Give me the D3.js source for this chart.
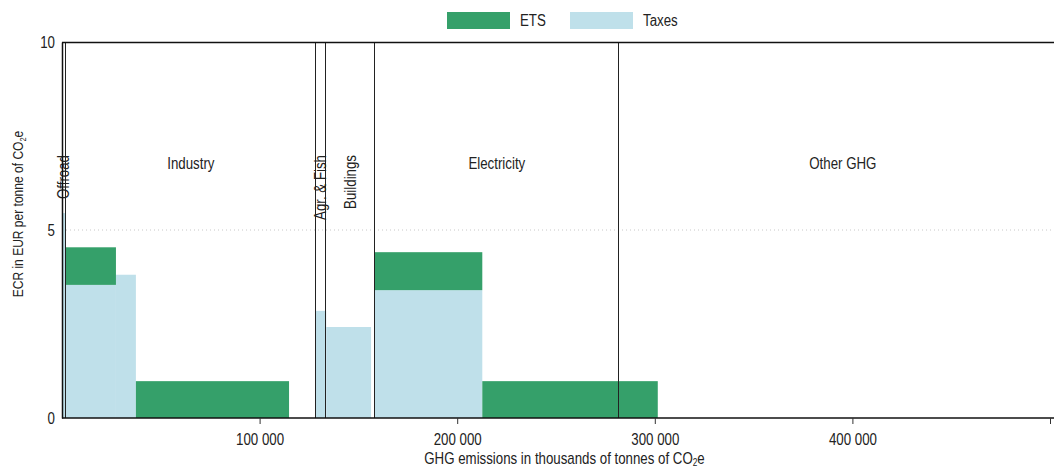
<!DOCTYPE html>
<html lang="en">
<head>
<meta charset="UTF-8">
<title>ECR by sector</title>
<script src="https://d3js.org/d3.v7.min.js"></script>
<style>
  body { margin: 0; background: #fff; }
  svg text { font-family: "Liberation Sans Narrow", "Arial Narrow", "Liberation Sans", Arial, sans-serif; fill: #222; }
</style>
</head>
<body>
<div id="chart"></div>
<script>
// sectors (cumulative emissions, thousands of tonnes CO2e)
var sectorNames = ["Offroad", "Industry", "Agr. & Fish", "Buildings", "Electricity", "Other GHG"];
var sectorEnds = [2000, 128400, 133700, 158400, 281700, 508600];

// bars: emission range and rate per tonne (EUR)
var barStart = [0, 2000, 27300, 37400, 128400, 133700, 158400, 212700];
var barEnd = [2000, 27300, 37400, 114900, 133700, 156400, 212700, 301500];
var taxRate = [5.45, 3.54, 3.81, 0, 2.85, 2.42, 3.40, 0];
var etsRate = [0, 1.0, 0, 0.98, 0, 0, 1.01, 0.98];

var xTicks = [100000, 200000, 300000, 400000, 500000];
var yTicks = [0, 5, 10];

var width = 1054, height = 468;
var margin = {top: 42, left: 62, bottom: 50};
var squeeze = 0.83; // reference uses a narrow face

var x = d3.scaleLinear().domain([0, 508600]).range([margin.left, 1067]);
var y = d3.scaleLinear().domain([0, 10]).range([height - margin.bottom, margin.top]);

var green = "#35a06a", blue = "#bfe0ea";

var svg = d3.select("#chart").append("svg")
    .attr("width", width)
    .attr("height", height);

// grid line at 5
svg.append("line")
    .attr("x1", x(0)).attr("x2", width)
    .attr("y1", y(5)).attr("y2", y(5))
    .attr("stroke", "#c8c8c8")
    .attr("stroke-dasharray", "1,3");

var bars = barStart.map(function(d, i) {
  return {x0: d, x1: barEnd[i], tax: taxRate[i], ets: etsRate[i]};
});

svg.selectAll(".tax").data(bars.filter(function(d) { return d.tax > 0; }))
  .enter().append("rect")
    .attr("class", "tax")
    .attr("x", function(d) { return x(d.x0); })
    .attr("width", function(d) { return x(d.x1) - x(d.x0); })
    .attr("y", function(d) { return y(d.tax); })
    .attr("height", function(d) { return y(0) - y(d.tax); })
    .attr("fill", blue);

svg.selectAll(".ets").data(bars.filter(function(d) { return d.ets > 0; }))
  .enter().append("rect")
    .attr("class", "ets")
    .attr("x", function(d) { return x(d.x0); })
    .attr("width", function(d) { return x(d.x1) - x(d.x0); })
    .attr("y", function(d) { return y(d.tax + d.ets); })
    .attr("height", function(d) { return y(d.tax) - y(d.tax + d.ets); })
    .attr("fill", green);

// sector separators
var sectors = sectorNames.map(function(n, i) {
  return {name: n, start: i ? sectorEnds[i - 1] : 0, end: sectorEnds[i]};
});

svg.selectAll(".sep").data(sectors.slice(1))
  .enter().append("line")
    .attr("class", "sep")
    .attr("x1", function(d) { return Math.round(x(d.start)) - 0.5; })
    .attr("x2", function(d) { return Math.round(x(d.start)) - 0.5; })
    .attr("y1", y(0)).attr("y2", y(10))
    .attr("stroke", "#222")
    .attr("stroke-width", 1);

// sector labels
svg.selectAll(".lab").data(sectors)
  .enter().append("text")
    .attr("class", "lab")
    .style("font-size", "16px")
    .each(function(d) {
      var cx = (x(d.start) + x(d.end)) / 2;
      var t = d3.select(this);
      if (x(d.end) - x(d.start) < 60) {
        t.attr("transform", "translate(" + (cx + 5.5) + ",155) rotate(-90)")
          .attr("text-anchor", "end");
      } else {
        t.attr("x", cx).attr("y", 169).attr("text-anchor", "middle");
      }
    })
    .text(function(d) { return d.name; });

// top border
svg.append("line")
    .attr("x1", x(0)).attr("x2", width)
    .attr("y1", y(10) + 0.5).attr("y2", y(10) + 0.5)
    .attr("stroke", "#111").attr("stroke-width", 1.3);

// x axis
var xAxis = svg.append("g")
    .attr("transform", "translate(0," + y(0) + ")")
    .call(d3.axisBottom(x).tickValues(xTicks).tickSizeOuter(0).tickSize(6)
      .tickFormat(function(d) { return d < 500000 ? d3.format(",")(d).replace(/,/g, " ") : ""; }));
xAxis.select(".domain").attr("stroke", "#111").attr("stroke-width", 1.5)
    .attr("d", "M" + x(0) + ",0H" + width);
xAxis.selectAll(".tick line").attr("stroke", "#333");
xAxis.selectAll("text").style("font-size", "16px").attr("dy", "1.1em")
    .style("font-family", null).attr("fill", "#222");

// y axis
var yAxis = svg.append("g")
    .attr("transform", "translate(" + x(0) + ",0)")
    .call(d3.axisLeft(y).tickValues(yTicks).tickSize(0).tickPadding(7));
yAxis.select(".domain").attr("stroke", "#111").attr("stroke-width", 1.5);
yAxis.selectAll("text").style("font-size", "16px").attr("fill", "#222");

// legend
var legendNames = ["ETS", "Taxes"];
var legendColors = [green, blue];
var legendX = [447, 570];
var legend = svg.selectAll(".legend").data(legendNames)
  .enter().append("g")
    .attr("class", "legend")
    .attr("transform", function(d, i) { return "translate(" + legendX[i] + ",12)"; });
legend.append("rect")
    .attr("width", 63).attr("height", 17)
    .attr("fill", function(d, i) { return legendColors[i]; });
legend.append("text")
    .attr("x", 73).attr("y", 8.5).attr("dy", "0.35em")
    .style("font-size", "16px")
    .text(function(d) { return d; });

// squeeze single-run texts
svg.selectAll("text").each(function() {
  var w = this.getComputedTextLength();
  if (w > 0) {
    this.setAttribute("textLength", w * squeeze);
    this.setAttribute("lengthAdjust", "spacingAndGlyphs");
  }
});

// axis titles (with subscript), squeezed by a transform
var xt = svg.append("g")
    .attr("transform", "translate(" + (x(0) + x.range()[1]) / 2 + ",464) scale(" + squeeze + ",1)")
  .append("text")
    .attr("text-anchor", "middle")
    .style("font-size", "16px");
xt.append("tspan").text("GHG emissions in thousands of tonnes of CO");
xt.append("tspan").attr("dy", 2).style("font-size", "10px").text("2");
xt.append("tspan").attr("dy", -2).text("e");

var yt = svg.append("g")
    .attr("transform", "translate(23,214) rotate(-90) scale(" + squeeze + ",1)")
  .append("text")
    .attr("text-anchor", "middle")
    .style("font-size", "14.5px");
yt.append("tspan").text("ECR in EUR per tonne of CO");
yt.append("tspan").attr("dy", 3).style("font-size", "9px").text("2");
yt.append("tspan").attr("dy", -3).text("e");
</script>
</body>
</html>
